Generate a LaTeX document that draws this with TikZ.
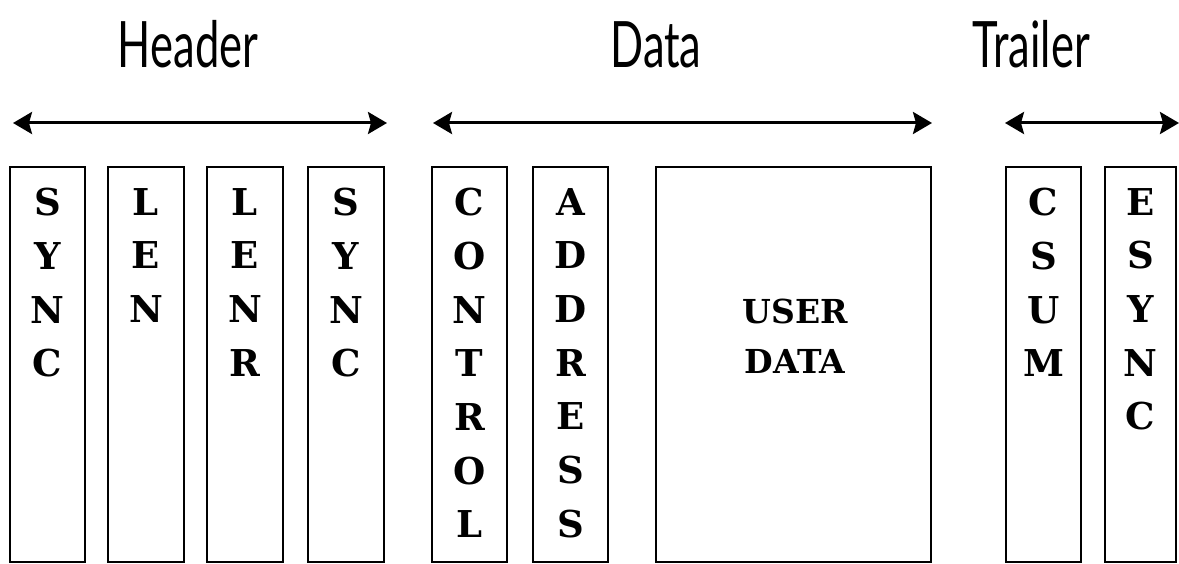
\documentclass[tikz,border=0pt]{standalone}
\usepackage{fontspec}
\usepackage{graphicx}
\newfontfamily\fieldfont{DejaVu Serif}
\newfontfamily\headfont{Lato}
\usetikzlibrary{arrows.meta}
\begin{document}
\begin{tikzpicture}[x=1pt,y=-1pt,
  fieldbox/.style={draw, line width=2pt, minimum height=395pt, inner sep=0pt},
  stack/.style={anchor=north, align=center, inner sep=0pt,
    font=\fieldfont\bfseries\fontsize{37}{53.7}\selectfont},
  title/.style={font=\headfont\fontsize{64}{64}\selectfont, inner sep=0pt, anchor=base},
  span/.style={line width=3pt,
    arrows={Stealth[length=19pt,width=22pt,inset=3pt]-Stealth[length=19pt,width=22pt,inset=3pt]}}
]
\useasboundingbox (0,0) rectangle (1179,564);

% section titles
\node[title] (thead) at (188,68) {\scalebox{0.68}[1]{Header}};
\node[title] (tdata) at (656,68) {\scalebox{0.68}[1]{Data}};
\node[title] (ttrail) at (1031,68) {\scalebox{0.68}[1]{Trailer}};

% span arrows
\coordinate (h1) at (13,123);  \coordinate (h2) at (387,123);
\coordinate (d1) at (433,123); \coordinate (d2) at (932,123);
\coordinate (t1) at (1005,123); \coordinate (t2) at (1179,123);
\draw[span] (h1) -- (h2);
\draw[span] (d1) -- (d2);
\draw[span] (t1) -- (t2);

% frame fields
\node[fieldbox, minimum width=75pt]  (b1) at (47.5,364.5) {};
\node[fieldbox, minimum width=76pt]  (b2) at (146,364.5) {};
\node[fieldbox, minimum width=76pt]  (b3) at (245,364.5) {};
\node[fieldbox, minimum width=76pt]  (b4) at (346,364.5) {};
\node[fieldbox, minimum width=75pt]  (b5) at (469.5,364.5) {};
\node[fieldbox, minimum width=75pt]  (b6) at (570.5,364.5) {};
\node[fieldbox, minimum width=275pt] (b7) at (793.5,364.5) {};
\node[fieldbox, minimum width=75pt]  (b8) at (1043.5,364.5) {};
\node[fieldbox, minimum width=71pt]  (b9) at (1140.5,364.5) {};

% field labels
\node[stack] (l1) at (47.5,188) {S\\Y\\N\\C};
\node[stack] (l2) at (146,188) {L\\E\\N};
\node[stack] (l3) at (245,188) {L\\E\\N\\R};
\node[stack] (l4) at (346,188) {S\\Y\\N\\C};
\node[stack] (l5) at (469.5,188) {C\\O\\N\\T\\R\\O\\L};
\node[stack] (l6) at (570.5,188) {A\\D\\D\\R\\E\\S\\S};
\node[stack, font=\fieldfont\bfseries\fontsize{33}{50}\selectfont] (l7) at (795,299) {USER\\DATA};
\node[stack] (l8) at (1043.5,188) {C\\S\\U\\M};
\node[stack] (l9) at (1140.5,188) {E\\S\\Y\\N\\C};
\end{tikzpicture}
\end{document}
